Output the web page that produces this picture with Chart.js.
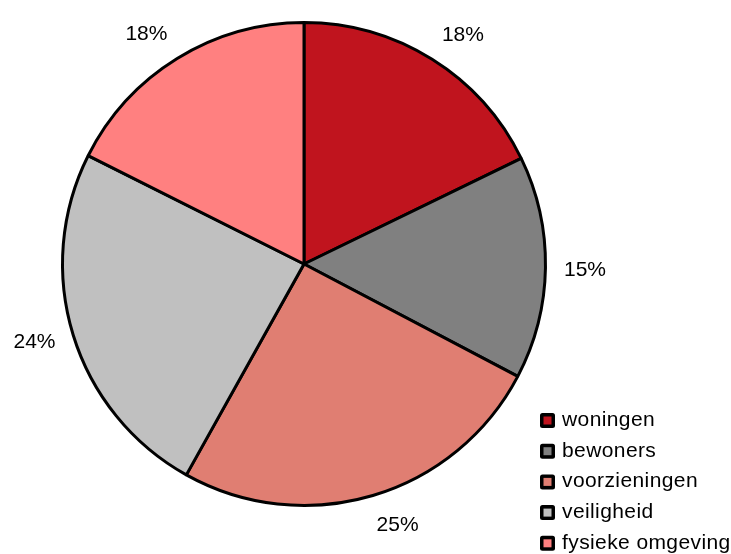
<!DOCTYPE html>
<html>
<head>
<meta charset="utf-8">
<script src="https://cdn.jsdelivr.net/npm/chart.js@4/dist/chart.umd.min.js"></script>
<style>
html,body{margin:0;padding:0;background:#fff;}
#wrap{width:731px;height:554px;position:relative;}
</style>
</head>
<body>
<div id="wrap"><canvas id="c" width="731" height="554"></canvas></div>
<script>
const categories = ["woningen", "bewoners", "voorzieningen", "veiligheid", "fysieke omgeving"];
const values = [17.8, 14.9, 25.4, 24.3, 17.6];
const valueLabels = ["18%", "15%", "25%", "24%", "18%"];
const colors = ["#C0141E", "#808080", "#E07E72", "#C0C0C0", "#FF8080"];

const FONT = '"Liberation Sans", Arial, sans-serif';

function clamp01(v) { return Math.max(0, Math.min(1, v)); }

const overlay = {
  id: 'overlay',
  afterDatasetsDraw(chart) {
    const ctx = chart.ctx;
    const meta = chart.getDatasetMeta(0);
    ctx.save();
    ctx.fillStyle = '#000';
    ctx.font = '21px ' + FONT;
    ctx.textAlign = 'center';
    ctx.textBaseline = 'alphabetic';
    meta.data.forEach((arc, i) => {
      const p = arc.getProps(['x','y','startAngle','endAngle','outerRadius'], true);
      const mid = (p.startAngle + p.endAngle) / 2;
      const ux = Math.cos(mid), uy = Math.sin(mid);
      const D = p.outerRadius + 18.5;
      const hx = Math.sign(ux) * 21 * clamp01((Math.abs(ux) - 0.1) / 0.2);
      const hy = Math.sign(uy) * 10 * clamp01((Math.abs(uy) - 0.3) / 0.4);
      const cx = p.x + D * ux + hx;
      const cy = p.y + D * uy + hy;
      ctx.fillText(valueLabels[i], cx, cy + 7.5);
    });
    // legend
    ctx.textAlign = 'left';
    if ('letterSpacing' in ctx) ctx.letterSpacing = '0.4px';
    const lx = 540, ly0 = 420.5, step = 30.7, bs = 15;
    categories.forEach((name, i) => {
      const y = ly0 + i * step;
      ctx.fillStyle = '#000';
      ctx.beginPath();
      if (ctx.roundRect) ctx.roundRect(lx, y - bs / 2, bs, bs, 2.5); else ctx.rect(lx, y - bs / 2, bs, bs);
      ctx.fill();
      ctx.fillStyle = colors[i];
      ctx.fillRect(lx + 3.5, y - bs / 2 + 3.5, bs - 7, bs - 7);
      ctx.fillStyle = '#000';
      ctx.fillText(name, 562, y + 5.5);
    });
    ctx.restore();
  }
};

new Chart(document.getElementById('c'), {
  type: 'pie',
  data: {
    labels: categories,
    datasets: [{
      data: values,
      backgroundColor: colors,
      borderColor: '#000',
      borderWidth: 3,
      borderAlign: 'center'
    }]
  },
  options: {
    responsive: false,
    animation: false,
    layout: { padding: { left: 61, top: 21, right: 184, bottom: 47 } },
    plugins: { legend: { display: false }, tooltip: { enabled: false } }
  },
  plugins: [overlay]
});
</script>
</body>
</html>
